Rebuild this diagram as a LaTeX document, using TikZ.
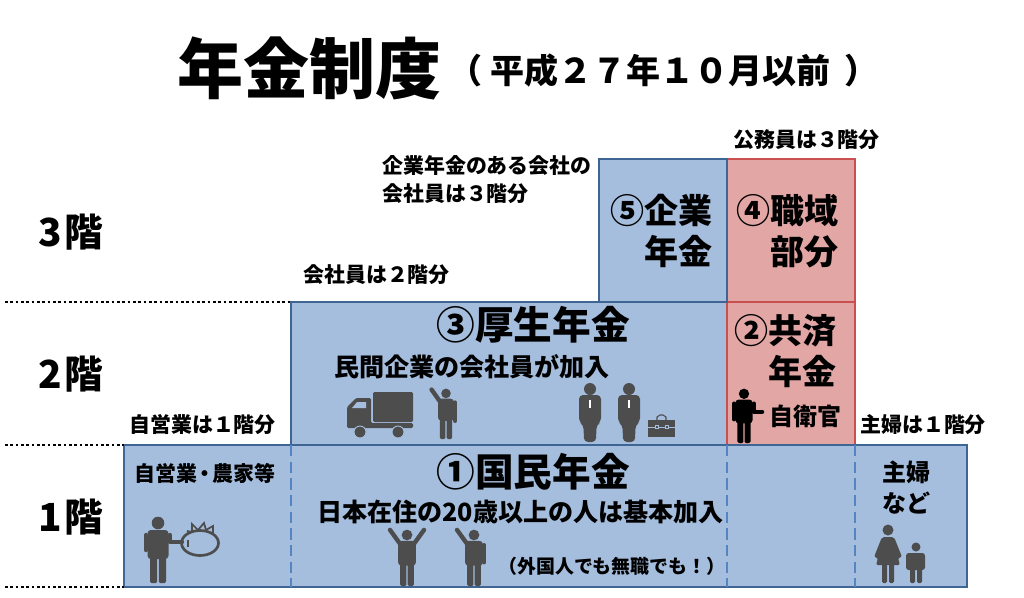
\documentclass[tikz,border=0pt]{standalone}
\usepackage{fontspec}
\usepackage{xcolor}
\usetikzlibrary{positioning}
\newfontfamily\jpfont{Noto Sans CJK JP}
\definecolor{boxblue}{HTML}{A5BEDE}
\definecolor{edgeblue}{HTML}{3F6595}
\definecolor{dashblue}{HTML}{5485C0}
\definecolor{boxred}{HTML}{E2A6A5}
\definecolor{edgered}{HTML}{C9504F}
\definecolor{icongrey}{HTML}{4D4D4D}
\begin{document}
\begin{tikzpicture}[
	x=0.75pt, y=-0.75pt,
	font=\jpfont\bfseries,
	bluebox/.style = {rectangle, draw=edgeblue, fill=boxblue, line width=1.8pt, anchor=north west, inner sep=0pt, outer sep=0pt},
	redbox/.style = {rectangle, draw=edgered, fill=boxred, line width=1.8pt, anchor=north west, inner sep=0pt, outer sep=0pt},
	floorline/.style = {draw=black, line width=1.7pt, dash pattern=on 1.9pt off 2.1pt},
	divider/.style = {draw=dashblue, line width=2.2pt, dash pattern=on 8.5pt off 4pt},
	floorlabel/.style = {font=\jpfont\bfseries\fontsize{29}{29}\selectfont, inner sep=0pt, anchor=west},
	bigtext/.style = {font=\jpfont\bfseries\fontsize{25.5}{31}\selectfont, align=right, inner sep=0pt},
	headtext/.style = {font=\jpfont\bfseries\fontsize{29}{30}\selectfont, inner sep=0pt},
	subtext/.style = {font=\jpfont\bfseries\fontsize{18.8}{20}\selectfont, inner sep=0pt},
	smalltext/.style = {font=\jpfont\bfseries\fontsize{15.7}{20.5}\selectfont, align=left, inner sep=0pt, anchor=west},
	iconarm/.style = {line width=3.3pt, line cap=round, line join=round},
	pics/man/.style 2 args = {code = {
		\fill[pic actions] (0,-60) circle[radius=6.3];
		\fill[pic actions, rounded corners=2.5pt] (-10.5,-53) rectangle (10.5,-24);
		\fill[pic actions, rounded corners=1pt] (-8,-28) rectangle (-0.8,0);
		\fill[pic actions, rounded corners=1pt] (0.8,-28) rectangle (8,0);
		\draw[iconarm, pic actions, fill=none] #1;
		\draw[iconarm, pic actions, fill=none] #2;
	}},
	pics/suit/.style = {code = {
		\fill[icongrey] (0,-53) circle[radius=6];
		\fill[icongrey, rounded corners=3pt] (-11,-47) -- (11,-47) -- (11,-20) -- (6.5,-17) -- (6,0) -- (-6,0) -- (-6.5,-17) -- (-11,-20) -- cycle;
		\fill[white] (-0.8,-42) rectangle (0.8,-34);
	}},
]
\useasboundingbox (0,0) rectangle (1024,597);

% boxes
\node[bluebox, minimum width=436*0.75pt, minimum height=143*0.75pt] (kosei) at (291,302) {};
\node[redbox, minimum width=128*0.75pt, minimum height=143*0.75pt] (kyosai) at (727,302) {};
\node[redbox, minimum width=128*0.75pt, minimum height=143*0.75pt] (shokuiki) at (727,159) {};
\node[bluebox, minimum width=128*0.75pt, minimum height=143*0.75pt] (kigyo) at (599,159) {};
\node[bluebox, minimum width=843*0.75pt, minimum height=142*0.75pt] (kokumin) at (124,445) {};

% floor lines
\coordinate (line3) at (5,302);
\coordinate (line2) at (5,445);
\coordinate (line1) at (5,587);
\draw[floorline] (line3) -- (kosei.north west);
\draw[floorline] (line2) -- (kokumin.north west);
\draw[floorline] (line1) -- (kokumin.south west);

% dashed dividers
\draw[divider] (kosei.south west) -- (kosei.south west |- kokumin.south);
\draw[divider] (kosei.south east) -- (kosei.south east |- kokumin.south);
\draw[divider] (kyosai.south east) -- (kyosai.south east |- kokumin.south);

% title
\node[inner sep=0pt, anchor=west, font=\jpfont\bfseries\fontsize{49.5}{50}\selectfont] (title) at (177,68) {年金制度};
\node[inner sep=0pt, anchor=west, font=\jpfont\bfseries\fontsize{25.5}{26}\selectfont] (subtitle) at (448,71) {（\hspace{6pt}平成２７年１０月以前\hspace{11pt}）};

% floors
\node[floorlabel] (f3) at (38,232) {3\hspace{2pt}階};
\node[floorlabel] (f2) at (38,374) {2\hspace{2pt}階};
\node[floorlabel] (f1) at (38,517) {1\hspace{2pt}階};

% inside the boxes
\node[bigtext, anchor=north east] (kigyotext) at (713,194) {⑤企業\\年金};
\node[bigtext, anchor=north east] (shokuikitext) at (839,194) {④職域\\部分};
\node[bigtext, anchor=north east] (kyosaitext) at (837,314) {②共済\\年金};
\node[headtext] (koseitext) at (533,325) {③厚生年金};
\node[headtext] (kokumintext) at (533,472) {①国民年金};
\node[subtext, anchor=west] (koseisub) at (334,367) {民間企業の会社員が加入};
\node[subtext, anchor=west] (kokuminsub) at (317,512) {日本在住の20歳以上の人は基本加入};
\node[inner sep=0pt, anchor=west, font=\jpfont\bfseries\fontsize{14.2}{15}\selectfont] (gaikoku) at (498,566) {（外国人でも無職でも！）};
\node[smalltext] (jieigyo) at (134,473) {自営業\hspace{-2pt}・\hspace{-2pt}農家等};
\node[inner sep=0pt, anchor=west, font=\jpfont\bfseries\fontsize{18}{20}\selectfont] (jieikan) at (769,416) {自衛官};
\node[inner sep=0pt, align=left, anchor=north west, font=\jpfont\bfseries\fontsize{18}{23}\selectfont] (shufu) at (882,461) {主婦\\など};

% labels above the boxes
\node[smalltext] (lbljiei) at (129,425) {自営業は１階分};
\node[smalltext] (lblkaisha) at (303,275) {会社員は２階分};
\node[smalltext] (lblkigyo) at (382,179.5) {企業年金のある会社の\\会社員は３階分};
\node[smalltext] (lblkomu) at (733,140) {公務員は３階分};
\node[smalltext] (lblshufu) at (860,425) {主婦は１階分};

% farmer and tomato
\pic[icongrey] at (158,583) {man={(-12,-48) -- (-12,-33)}{(12,-48) -- (12,-41) -- (24,-41)}};
\draw[draw=icongrey, line width=2pt] (200,543) ellipse[x radius=18.5, y radius=12.5];
\draw[draw=icongrey, line width=1.3pt] (187,531) -- (192,532) -- (192,524) -- (198,530) -- (204,523) -- (206,530) -- (213,526) -- (213,533);
\draw[draw=icongrey, line width=0.8pt] (188,540) -- (188,547);

% two people in the first floor
\pic[icongrey, scale=0.85] at (407,586) {man={(-7,-48) -- (-20,-66)}{(7,-48) -- (20,-66)}};
\pic[icongrey, scale=0.85] at (474,586) {man={(-7,-48) -- (-20,-66)}{(12,-48) -- (12,-28)}};

% truck
\fill[icongrey, rounded corners=1pt] (373,392) rectangle (413,422);
\fill[icongrey, rounded corners=1pt] (347,407) -- (356,398) -- (371,398) -- (371,423) -- (413,423) -- (413,428) -- (347,428) -- cycle;
\fill[boxblue] (352,408) -- (357,402) -- (366,402) -- (366,408) -- cycle;
\fill[icongrey, draw=boxblue, line width=0.7pt] (360,432) circle[radius=6];
\fill[icongrey, draw=boxblue, line width=0.7pt] (398,432) circle[radius=6];
\pic[icongrey, scale=0.76] at (446,439) {man={(-7,-48) -- (-19,-65)}{(12,-48) -- (12,-24)}};

% office workers and briefcase
\pic at (590,442) {suit};
\pic at (629,442) {suit};
\fill[icongrey] (648,420) rectangle (675,437);
\draw[draw=icongrey, line width=0.8pt] (657,420) -- (657,417) -- (660,415) -- (663,415) -- (666,417) -- (666,420);
\draw[draw=boxblue, line width=0.6pt] (648,427) -- (675,427);
\draw[draw=boxblue, line width=0.6pt, fill=icongrey] (655,425.5) rectangle (658,428.5);
\draw[draw=boxblue, line width=0.6pt, fill=icongrey] (665,425.5) rectangle (668,428.5);

% self defense officer
\pic[black, scale=0.82] at (744,443) {man={(-12,-48) -- (-12,-29)}{(12,-48) -- (12,-38) -- (22,-38)}};

% housewife and child
\fill[icongrey] (888,530) circle[radius=5.5];
\fill[icongrey, rounded corners=1.5pt] (882,537) -- (894,537) -- (902,557) -- (898,558) -- (900,565) -- (876,565) -- (878,558) -- (874,557) -- cycle;
\fill[icongrey, rounded corners=1pt] (882,562) rectangle (887,583);
\fill[icongrey, rounded corners=1pt] (889,562) rectangle (894,583);
\fill[icongrey] (916,547) circle[radius=4.5];
\fill[icongrey, rounded corners=2pt] (906,553) rectangle (925,570);
\fill[icongrey, rounded corners=1pt] (910,565) rectangle (915,583);
\fill[icongrey, rounded corners=1pt] (917,565) rectangle (922,583);
\end{tikzpicture}
\end{document}
